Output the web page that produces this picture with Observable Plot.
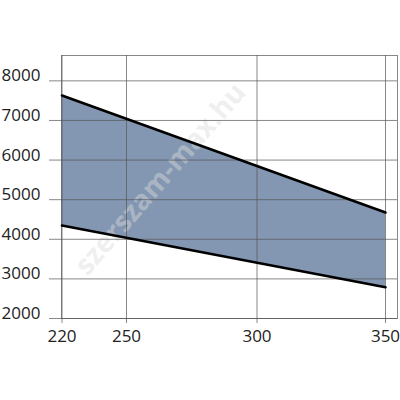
<!DOCTYPE html>
<html>
<head>
<meta charset="utf-8">
<script src="https://cdn.jsdelivr.net/npm/d3@7"></script>
<script src="https://cdn.jsdelivr.net/npm/@observablehq/plot@0.6"></script>
<style>
  html, body { margin: 0; padding: 0; background: #fff; }
  #chart { width: 400px; height: 400px; }
</style>
</head>
<body>
<div id="chart"></div>
<script>
// Data
const xValues = [220, 350];
const upper = [7630, 4676];
const lower = [4348, 2790];
const xTicks = [220, 250, 300, 350];
const yTicks = [2000, 3000, 4000, 5000, 6000, 7000, 8000];
const watermark = ["szerszam-max.hu"];

const rows = xValues.map((x, i) => ({x, upper: upper[i], lower: lower[i]}));

const chart = Plot.plot({
  width: 400,
  height: 400,
  marginLeft: 61,
  marginRight: 3,
  marginTop: 55,
  marginBottom: 82,
  style: {fontFamily: "'Open Sans', sans-serif", fontSize: "17px", background: "#fff", color: "#222"},
  x: {type: "linear", domain: [220, 250, 300, 350], range: [61.5, 126, 256.5, 385]},
  y: {type: "linear", domain: [2000, 8640]},
  marks: [
    Plot.areaY(rows, {x: "x", y1: "lower", y2: "upper", fill: "#8497b2"}),
    Plot.text(watermark, {text: d => d, frameAnchor: "middle", rotate: -49, dx: -69, dy: -8, fontSize: 28, fontWeight: "bold", fill: "#dcdcdc", fillOpacity: 0.45}),
    Plot.gridY(yTicks, {stroke: "#555", strokeOpacity: 0.7}),
    Plot.gridX(xTicks, {stroke: "#555", strokeOpacity: 0.7}),
    Plot.frame({stroke: "#555", strokeOpacity: 0.7}),
    Plot.axisY(yTicks, {tickSize: 12, stroke: "#555", strokeOpacity: 0.7, fill: "none", label: null}),
    Plot.axisY(yTicks, {tickSize: 0, tickPadding: 21, fill: "#222", dy: -5, fontSize: 17, tickFormat: "d", label: null}),
    Plot.axisX(xTicks, {tickSize: 5, tickPadding: 6, stroke: "#555", strokeOpacity: 0.7, fill: "#222", fontSize: 17, tickFormat: "d", label: null}),
    Plot.lineY(rows, {x: "x", y: "upper", stroke: "#000", strokeWidth: 2.6}),
    Plot.lineY(rows, {x: "x", y: "lower", stroke: "#000", strokeWidth: 2.6})
  ]
});
document.getElementById("chart").appendChild(chart);
</script>
</body>
</html>
